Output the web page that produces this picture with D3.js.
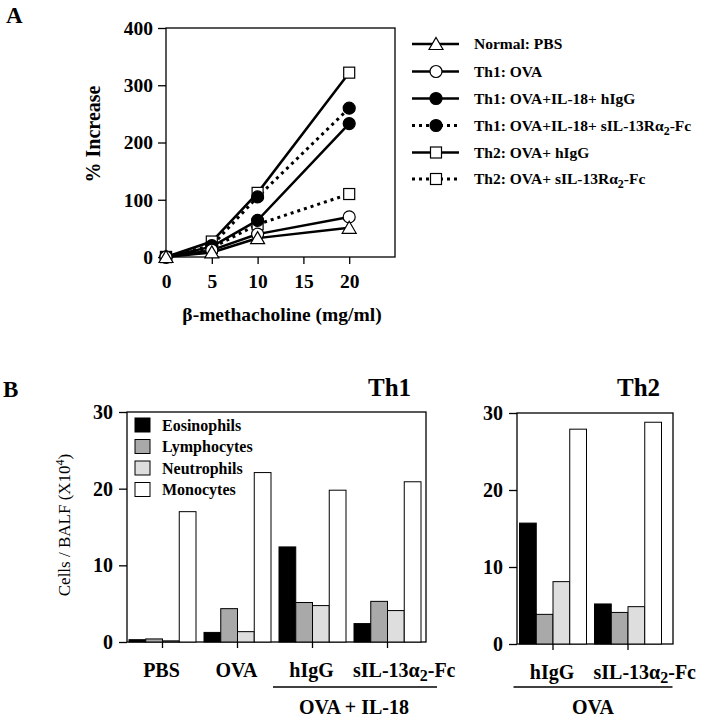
<!DOCTYPE html>
<html><head><meta charset="utf-8">
<script src="https://cdn.jsdelivr.net/npm/d3@7"></script>
<style>
html,body{margin:0;padding:0;background:#fff;}
svg text{font-family:"Liberation Serif","Times New Roman",serif;font-weight:bold;fill:#000;}
</style></head>
<body>
<svg id="chart" width="716" height="720"></svg>
<script>
// ---------- Panel A data ----------
const doses = [0, 5, 10, 20];
const doseTicks = [0, 5, 10, 15, 20];
const pctTicks = [0, 100, 200, 300, 400];
const normalPBS = [0, 8, 33, 51];
const th1OVA = [0, 12, 40, 70];
const th1IL18hIgG = [0, 18, 64, 233];
const th1IL18sIL = [0, 20, 105, 260];
const th2hIgG = [0, 27, 112, 322];
const th2sIL = [0, 16, 57, 110];
const seriesLabels = ["Normal: PBS", "Th1: OVA", "Th1: OVA+IL-18+ hIgG", "Th1: OVA+IL-18+ sIL-13R\u03b1|2|-Fc", "Th2: OVA+ hIgG", "Th2: OVA+ sIL-13R\u03b1|2|-Fc"];

// ---------- Panel B data ----------
const cellTypes = ["Eosinophils", "Lymphocytes", "Neutrophils", "Monocytes"];
const cellTicks = [0, 10, 20, 30];
const th1Groups = ["PBS", "OVA", "hIgG", "sIL-13\u03b1|2|-Fc"];
const th1Eos = [0.3, 1.25, 12.4, 2.4];
const th1Lym = [0.4, 4.35, 5.15, 5.3];
const th1Neu = [0.15, 1.35, 4.75, 4.1];
const th1Mon = [17.0, 22.1, 19.8, 20.9];
const th2Groups = ["hIgG", "sIL-13\u03b1|2|-Fc"];
const th2Eos = [15.7, 5.2];
const th2Lym = [3.85, 4.1];
const th2Neu = [8.1, 4.85];
const th2Mon = [27.9, 28.8];

const svg = d3.select("#chart");
const serif = '"Liberation Serif","Times New Roman",serif';

// helper: text with "|sub|" subscripts
function richText(sel, str, subSize) {
  const parts = str.split("|");
  parts.forEach((p, i) => {
    if (!p) return;
    if (i % 2 === 1) {
      sel.append("tspan").attr("dy", 4).style("font-size", subSize + "px").text(p);
    } else {
      sel.append("tspan").attr("dy", i === 0 ? 0 : -4).text(p);
    }
  });
  return sel;
}

// ================= PANEL A =================
const xA = d3.scaleLinear().domain([0, 25]).range([166, 395]);
const yA = d3.scaleLinear().domain([0, 400]).range([257, 28]);

svg.append("text").attr("x", 6).attr("y", 23).style("font-size", "23px").text("A");

const gA = svg.append("g");
gA.append("rect").attr("x", xA(0)).attr("y", yA(400)).attr("width", xA(25) - xA(0)).attr("height", yA(0) - yA(400))
  .attr("fill", "none").attr("stroke", "#000").attr("stroke-width", 1.3);

const axAy = gA.append("g").attr("transform", `translate(${xA(0)},0)`)
  .call(d3.axisLeft(yA).tickValues(pctTicks).tickSize(8).tickPadding(5));
const axAx = gA.append("g").attr("transform", `translate(0,${yA(0)})`)
  .call(d3.axisBottom(xA).tickValues(doseTicks).tickSize(7).tickPadding(9));
[axAy, axAx].forEach(a => {
  a.select(".domain").remove();
  a.selectAll("line").attr("stroke-width", 1.3);
  a.selectAll("text").style("font-family", serif).style("font-weight", "bold").style("font-size", "19.5px");
});
axAx.selectAll("text").attr("dy", "0.75em");

svg.append("text").attr("transform", "translate(100,134) rotate(-90)").attr("text-anchor", "middle")
  .style("font-size", "20px").text("% Increase");
svg.append("text").attr("x", 282).attr("y", 321).attr("text-anchor", "middle")
  .style("font-size", "19.5px").text("\u03b2-methacholine (mg/ml)");

const seriesA = [
  { vals: normalPBS, marker: "triangle", fill: "#fff", dash: null },
  { vals: th1OVA, marker: "circle", fill: "#fff", dash: null },
  { vals: th1IL18hIgG, marker: "circle", fill: "#000", dash: null },
  { vals: th1IL18sIL, marker: "circle", fill: "#000", dash: "3,4" },
  { vals: th2hIgG, marker: "square", fill: "#fff", dash: null },
  { vals: th2sIL, marker: "square", fill: "#fff", dash: "3,4" }
];

const lineA = d3.line().x((d, i) => xA(doses[i])).y(d => yA(d));

function drawMarker(g, type, cx, cy, fill) {
  if (type === "circle") {
    g.append("circle").attr("cx", cx).attr("cy", cy).attr("r", 6)
      .attr("fill", fill).attr("stroke", "#000").attr("stroke-width", 1.2);
  } else if (type === "square") {
    g.append("rect").attr("x", cx - 5.5).attr("y", cy - 5.5).attr("width", 11).attr("height", 11)
      .attr("fill", fill).attr("stroke", "#000").attr("stroke-width", 1.2);
  } else {
    g.append("path").attr("d", `M${cx},${cy - 6.5}L${cx + 7},${cy + 5.5}L${cx - 7},${cy + 5.5}Z`)
      .attr("fill", fill).attr("stroke", "#000").attr("stroke-width", 1.2);
  }
}

const linesG = gA.append("g");
seriesA.forEach(s => {
  linesG.append("path").attr("d", lineA(s.vals)).attr("fill", "none").attr("stroke", "#000")
    .attr("stroke-width", s.dash ? 3 : 2.5).attr("stroke-dasharray", s.dash);
});
const markG = gA.append("g");
seriesA.slice().reverse().forEach(s => {
  s.vals.forEach((v, i) => drawMarker(markG, s.marker, xA(doses[i]), yA(v), s.fill));
});

// legend A
const legA = svg.append("g");
const legRowY = [44, 71.5, 98.5, 125.5, 152.5, 179];
seriesA.forEach((s, i) => {
  const y = legRowY[i];
  legA.append("line").attr("x1", 412).attr("x2", 459).attr("y1", y).attr("y2", y)
    .attr("stroke", "#000").attr("stroke-width", s.dash ? 3 : 2.5).attr("stroke-dasharray", s.dash);
  drawMarker(legA, s.marker, 436, y, s.fill);
  const t = legA.append("text").attr("x", 474).attr("y", y + 5).style("font-size", "15.5px");
  richText(t, seriesLabels[i], 12);
});

// ================= PANEL B =================
svg.append("text").attr("x", 3).attr("y", 397).style("font-size", "23px").text("B");
svg.append("text").attr("x", 368).attr("y", 396).style("font-size", "25px").text("Th1");
svg.append("text").attr("x", 617).attr("y", 396).style("font-size", "25px").text("Th2");

const colors = d3.scaleOrdinal().domain(cellTypes).range(["#000", "#a9a9a9", "#dedede", "#fff"]);

function barPanel(groups, seriesVals, xRange, frame, yRange) {
  const g = svg.append("g");
  const x = d3.scaleBand().domain(groups).range(xRange).paddingInner(0).paddingOuter(0);
  const inner = d3.scaleBand().domain(cellTypes).range([4, x.bandwidth() - 4]).padding(0);
  const y = d3.scaleLinear().domain([0, 30]).range(yRange);

  g.append("rect").attr("x", frame[0]).attr("y", y(30)).attr("width", frame[1] - frame[0]).attr("height", y(0) - y(30))
    .attr("fill", "none").attr("stroke", "#000").attr("stroke-width", 1.3);

  groups.forEach((grp, gi) => {
    cellTypes.forEach((ct, ci) => {
      const v = seriesVals[ci][gi];
      g.append("rect").attr("x", x(grp) + inner(ct)).attr("y", y(v))
        .attr("width", inner.bandwidth()).attr("height", y(0) - y(v))
        .attr("fill", colors(ct)).attr("stroke", "#000").attr("stroke-width", 1);
    });
  });

  const ay = g.append("g").attr("transform", `translate(${frame[0]},0)`)
    .call(d3.axisLeft(y).tickValues(cellTicks).tickSize(8).tickPadding(6));
  ay.select(".domain").remove();
  ay.selectAll("line").attr("stroke-width", 1.3);
  ay.selectAll("text").style("font-family", serif).style("font-weight", "bold").style("font-size", "20px");

  const ax = g.append("g").attr("transform", `translate(0,${y(0)})`)
    .call(d3.axisBottom(x).tickSize(6).tickFormat(""));
  ax.select(".domain").remove();
  ax.selectAll("line").attr("stroke-width", 1.3);

  groups.forEach(grp => {
    const t = g.append("text").attr("y", y(0) + 35).style("font-size", "20px");
    if (grp.indexOf("|") >= 0) {
      t.attr("x", x(grp) + 3).attr("text-anchor", "start");
      richText(t, grp, 16);
    } else {
      t.attr("x", x(grp) + x.bandwidth() / 2 - 1).attr("text-anchor", "middle").text(grp);
    }
  });
  return { x, y, g };
}

const p1 = barPanel(th1Groups, [th1Eos, th1Lym, th1Neu, th1Mon], [125, 425], [127, 426], [642, 412]);
const p2 = barPanel(th2Groups, [th2Eos, th2Lym, th2Neu, th2Mon], [515.5, 665.5], [517, 673], [644, 413]);

// group underlines
const x1 = p1.x, x2 = p2.x;
svg.append("line").attr("x1", x1("hIgG") - 2).attr("x2", x1(th1Groups[3]) + x1.bandwidth() + 12)
  .attr("y1", 687).attr("y2", 687).attr("stroke", "#000").attr("stroke-width", 1.3);
svg.append("text").attr("x", 354).attr("y", 714).attr("text-anchor", "middle").style("font-size", "20px").text("OVA + IL-18");
svg.append("line").attr("x1", x2("hIgG") - 2).attr("x2", x2(th2Groups[1]) + x2.bandwidth() + 7)
  .attr("y1", 687).attr("y2", 687).attr("stroke", "#000").attr("stroke-width", 1.3);
svg.append("text").attr("x", 593).attr("y", 714).attr("text-anchor", "middle").style("font-size", "20px").text("OVA");

// y label B
const yl = svg.append("text").attr("transform", "translate(70,525) rotate(-90)").attr("text-anchor", "middle")
  .style("font-size", "17px").style("font-weight", "normal");
yl.append("tspan").text("Cells / BALF (X10");
yl.append("tspan").attr("dy", -6).style("font-size", "12px").text("4");
yl.append("tspan").attr("dy", 6).text(")");

// legend B
const legB = svg.append("g");
cellTypes.forEach((ct, i) => {
  const y = 418 + i * 21.5;
  legB.append("rect").attr("x", 135).attr("y", y).attr("width", 15).attr("height", 14)
    .attr("fill", colors(ct)).attr("stroke", "#000").attr("stroke-width", 1);
  legB.append("text").attr("x", 162).attr("y", y + 12.5).style("font-size", "16px").text(ct);
});
</script>
</body></html>
